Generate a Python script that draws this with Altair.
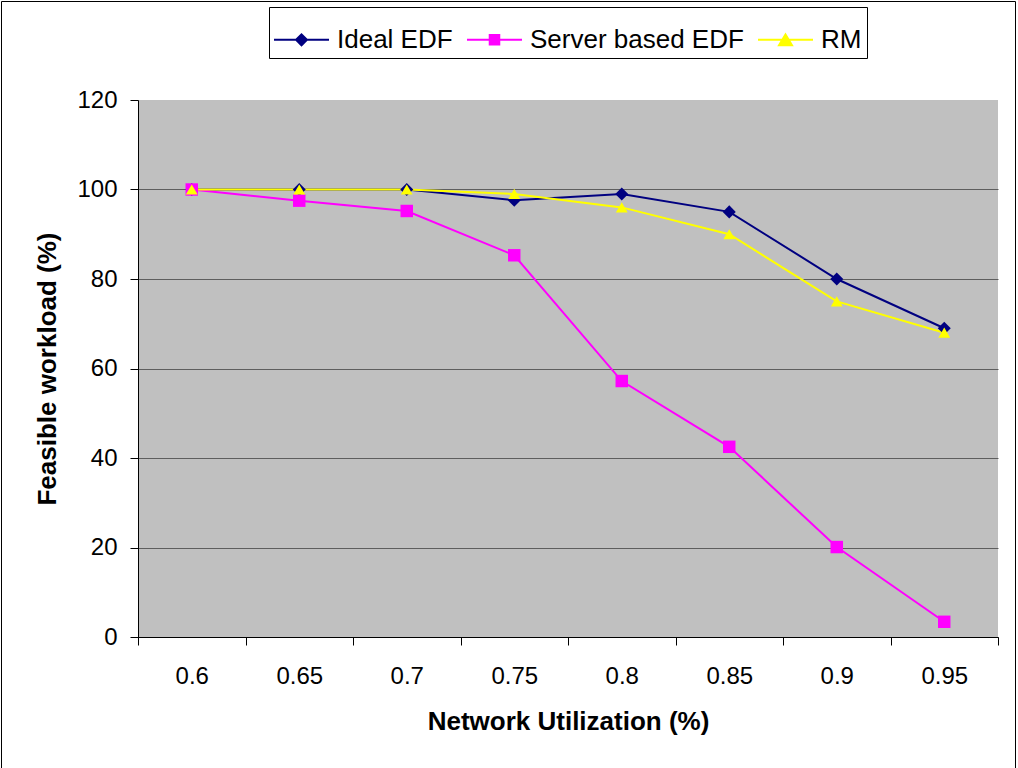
import json
import altair as alt
import pandas as pd

# Network utilization levels (x categories) and tick labels
utilization = [0.6, 0.65, 0.7, 0.75, 0.8, 0.85, 0.9, 0.95]
tick_labels = ["0.6", "0.65", "0.7", "0.75", "0.8", "0.85", "0.9", "0.95"]

# Feasible workload (%) per scheduling policy
ideal_edf = [100, 100, 100, 97.6, 99.0, 95.0, 80.0, 69.0]
server_edf = [100, 97.5, 95.2, 85.3, 57.2, 42.5, 20.1, 3.4]
rm = [100, 100, 100, 99.0, 96.0, 90.0, 75.0, 68.0]

series_names = ["Ideal EDF", "Server based EDF", "RM"]
series_colors = ["#000080", "#FF00FF", "#FFFF00"]
series_shapes = ["diamond", "square", "triangle-up"]
series_sizes = [170, 140, 190]

# Legend glyphs: a horizontal stroke with the series marker in the middle
legend_glyphs = [
    "M-1,-0.036H1V0.036H-1Z M0,-0.25L0.25,0L0,0.25L-0.25,0Z",
    "M-1,-0.036H1V0.036H-1Z M-0.21,-0.21H0.21V0.21H-0.21Z",
    "M-1,-0.036H1V0.036H-1Z M0,-0.26L0.3,0.24L-0.3,0.24Z",
]

rows = []
for name, values in zip(series_names, [ideal_edf, server_edf, rm]):
    for u, v in zip(utilization, values):
        rows.append({"series": name, "utilization": u, "workload": v})
df = pd.DataFrame(rows)

step = 0.05
half = step / 2
bounds = [round(u - half, 3) for u in utilization] + [round(utilization[-1] + half, 3)]
label_lookup = json.dumps(tick_labels + [""])
label_expr = f"{label_lookup}[round((datum.value - {bounds[0]}) / {step})]"

W, H = 860, 537
FONT = "Liberation Sans"

x_enc = alt.X(
    "utilization:Q",
    scale=alt.Scale(domain=[bounds[0], bounds[-1]], nice=False, zero=False),
    axis=alt.Axis(
        values=bounds,
        labelExpr=label_expr,
        labelOffset=W / len(utilization) / 2,
        labelFlush=False,
        labelOverlap=False,
        title="Network Utilization (%)",
        titleX=W / 2,
        titleY=92,
        titleAlign="center",
        titleBaseline="alphabetic",
        grid=False,
        tickSize=8,
        labelPadding=19,
    ),
)
y_enc = alt.Y(
    "workload:Q",
    scale=alt.Scale(domain=[0, 120], nice=False),
    axis=alt.Axis(
        values=[0, 20, 40, 60, 80, 100, 120],
        labelFlush=False,
        title="Feasible workload (%)",
        titleX=-83,
        titleY=H / 2,
        titleAngle=-90,
        titleAlign="center",
        titleBaseline="alphabetic",
        grid=True,
        gridColor=alt.condition("datum.value >= 120", alt.value("transparent"), alt.value("#5e5e5e")),
        gridWidth=1,
        tickSize=8,
        labelPadding=13,
    ),
)

color_scale = alt.Scale(domain=series_names, range=series_colors)

base = alt.Chart(df).encode(x=x_enc, y=y_enc)

lines = base.mark_line(strokeWidth=2).encode(
    color=alt.Color("series:N", scale=color_scale, legend=None),
)

points = base.mark_point(filled=True, opacity=1).encode(
    color=alt.Color("series:N", scale=color_scale, legend=None),
    shape=alt.Shape("series:N", scale=alt.Scale(domain=series_names, range=series_shapes), legend=None),
    size=alt.Size("series:N", scale=alt.Scale(domain=series_names, range=series_sizes), legend=None),
)

legend_cfg = dict(
    orient="none",
    legendX=131,
    legendY=-93,
    direction="horizontal",
    title=None,
    strokeColor="black",
    fillColor="white",
    padding=5,
    symbolSize=3025,
    symbolStrokeWidth=0,
    symbolOpacity=1,
    labelFont=FONT,
    labelFontSize=26,
    labelColor="black",
    labelOffset=8,
    labelLimit=400,
    columnPadding=14,
)

legend_layer = base.mark_point(filled=True, opacity=1).transform_filter("false").encode(
    color=alt.Color("series:N", scale=color_scale, legend=alt.Legend(**legend_cfg)),
    shape=alt.Shape(
        "series:N",
        scale=alt.Scale(domain=series_names, range=legend_glyphs),
        legend=alt.Legend(**legend_cfg),
    ),
)

frame = alt.Chart(alt.Data(values=[{}])).mark_rect(
    filled=False, stroke="black", strokeWidth=1
).encode(
    x=alt.value(-136.5),
    x2=alt.value(877.5),
    y=alt.value(-98.5),
    y2=alt.value(H + 140),
)

chart = (
    alt.layer(frame, lines, points, legend_layer)
    .resolve_scale(color="independent", shape="independent", size="independent")
    .properties(
        width=W,
        height=H,
        autosize=alt.AutoSizeParams(type="none"),
        padding={"left": 138, "top": 100, "right": 20, "bottom": 131},
        background="white",
    )
    .configure_view(fill="#C0C0C0", stroke=None)
    .configure_axis(
        domainColor="black",
        domainWidth=1,
        tickColor="black",
        tickWidth=1,
        labelFont=FONT,
        labelFontSize=24,
        labelColor="black",
        titleFont=FONT,
        titleFontSize=26,
        titleFontWeight="bold",
        titleColor="black",
    )
)

chart.save("out.html", embed_options={"renderer": "svg", "actions": False})
